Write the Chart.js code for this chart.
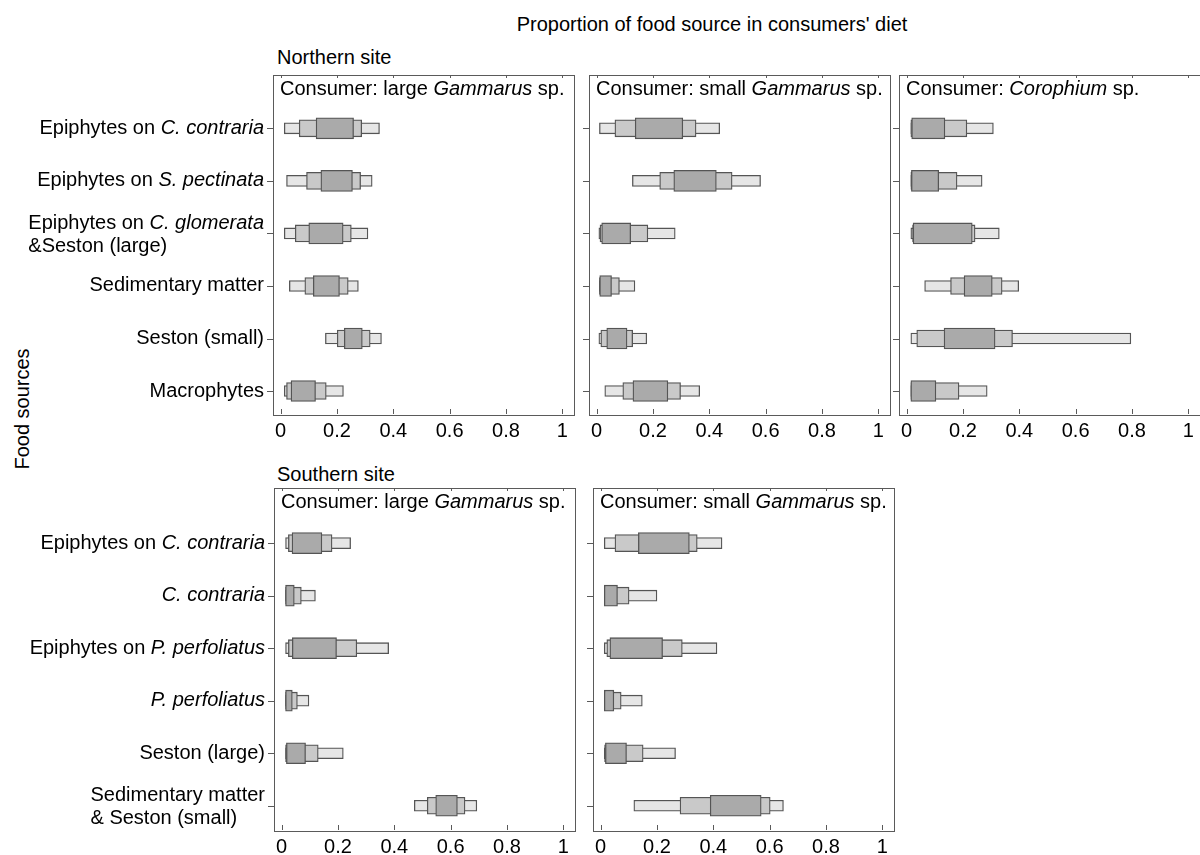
<!DOCTYPE html>
<html>
<head>
<meta charset="utf-8">
<script src="https://cdn.jsdelivr.net/npm/chart.js@4.4.1/dist/chart.umd.min.js"></script>
<style>
  body { margin: 0; width: 1200px; height: 855px; overflow: hidden; background: #fff; position: relative;
         font-family: "Liberation Sans", Arial, sans-serif; font-size: 20px; color: #000; }
  .txt { position: absolute; line-height: 24px; white-space: nowrap; }
  canvas { position: absolute; }
</style>
</head>
<body>
<div class="txt" style="left:712px; top:12px; transform:translateX(-50%);">Proportion of food source in consumers' diet</div>
<div class="txt" style="left:277px; top:45px;">Northern site</div>
<div class="txt" style="left:277px; top:462px;">Southern site</div>
<div class="txt" style="left:22px; top:409px; transform:translate(-50%,-50%) rotate(-90deg);">Food sources</div>

<canvas id="nLarge" width="580" height="391" style="left:0px; top:70px;"></canvas>
<canvas id="nSmall" width="317" height="391" style="left:579px; top:70px;"></canvas>
<canvas id="nCoro" width="317" height="391" style="left:889px; top:70px;"></canvas>
<canvas id="sLarge" width="581" height="394" style="left:0px; top:483px;"></canvas>
<canvas id="sSmall" width="317" height="394" style="left:583px; top:483px;"></canvas>

<script>
// text between underscores is italic, \n breaks a label
const northSources = ['Epiphytes on _C. contraria_', 'Epiphytes on _S. pectinata_', 'Epiphytes on _C. glomerata_\n&Seston (large)',
                      'Sedimentary matter', 'Seston (small)', 'Macrophytes'];
const southSources = ['Epiphytes on _C. contraria_', '_C. contraria_', 'Epiphytes on _P. perfoliatus_',
                      '_P. perfoliatus_', 'Seston (large)', 'Sedimentary matter\n& Seston (small)'];

const xTickValues = [0, 0.2, 0.4, 0.6, 0.8, 1];
const xTickLabels = ['0', '0.2', '0.4', '0.6', '0.8', '1'];

// credible intervals [low, high]: 95%, 75%, 50%
const nLarge95 = [[0.013, 0.351], [0.021, 0.325], [0.013, 0.310], [0.031, 0.276], [0.159, 0.358], [0.013, 0.223]];
const nLarge75 = [[0.066, 0.288], [0.092, 0.284], [0.052, 0.251], [0.086, 0.240], [0.201, 0.318], [0.021, 0.162]];
const nLarge50 = [[0.126, 0.259], [0.143, 0.255], [0.100, 0.222], [0.116, 0.209], [0.226, 0.290], [0.037, 0.124]];

const nSmall95 = [[0.010, 0.437], [0.127, 0.582], [0.008, 0.279], [0.010, 0.136], [0.008, 0.178], [0.029, 0.366]];
const nSmall75 = [[0.065, 0.353], [0.224, 0.481], [0.012, 0.182], [0.010, 0.081], [0.015, 0.128], [0.093, 0.298]];
const nSmall50 = [[0.137, 0.306], [0.274, 0.425], [0.018, 0.121], [0.011, 0.053], [0.036, 0.108], [0.129, 0.253]];

const nCoro95 = [[0.015, 0.308], [0.015, 0.268], [0.015, 0.329], [0.064, 0.398], [0.015, 0.796], [0.015, 0.286]];
const nCoro75 = [[0.015, 0.214], [0.015, 0.179], [0.021, 0.243], [0.156, 0.339], [0.036, 0.376], [0.015, 0.186]];
const nCoro50 = [[0.018, 0.136], [0.017, 0.114], [0.023, 0.233], [0.204, 0.304], [0.133, 0.314], [0.015, 0.104]];

const sLarge95 = [[0.014, 0.245], [0.014, 0.120], [0.014, 0.380], [0.014, 0.097], [0.014, 0.219], [0.471, 0.693]];
const sLarge75 = [[0.024, 0.179], [0.014, 0.070], [0.024, 0.267], [0.014, 0.056], [0.014, 0.130], [0.517, 0.651]];
const sLarge50 = [[0.037, 0.143], [0.014, 0.045], [0.038, 0.195], [0.014, 0.038], [0.017, 0.085], [0.547, 0.624]];

const sSmall95 = [[0.013, 0.431], [0.013, 0.200], [0.013, 0.413], [0.013, 0.148], [0.013, 0.266], [0.118, 0.649]];
const sSmall75 = [[0.051, 0.343], [0.013, 0.101], [0.022, 0.290], [0.013, 0.073], [0.014, 0.151], [0.282, 0.602]];
const sSmall50 = [[0.134, 0.315], [0.013, 0.060], [0.033, 0.220], [0.013, 0.047], [0.017, 0.092], [0.389, 0.570]];

const FONT = '20px "Liberation Sans", Arial, sans-serif';

function richWidth(ctx, text) {
    let w = 0;
    text.split('_').forEach((part, k) => {
        ctx.font = (k % 2 ? 'italic ' : '') + FONT;
        w += ctx.measureText(part).width;
    });
    return w;
}

function drawRich(ctx, text, x, y) {
    text.split('_').forEach((part, k) => {
        ctx.font = (k % 2 ? 'italic ' : '') + FONT;
        ctx.fillText(part, x, y);
        x += ctx.measureText(part).width;
    });
}

// frame, inner ticks, panel title and row labels
const decor = {
    id: 'decor',
    afterDraw(chart, args, opts) {
        const { ctx, chartArea: a } = chart;
        const x = chart.scales.x, y = chart.scales.y;
        ctx.save();
        ctx.strokeStyle = '#5a5a5a';
        ctx.lineWidth = 1;
        ctx.strokeRect(a.left + 0.5, a.top + 0.5, a.right - a.left - 1, a.bottom - a.top - 1);

        ctx.beginPath();
        xTickValues.forEach(v => {
            const px = Math.round(x.getPixelForValue(v)) + 0.5;
            ctx.moveTo(px, a.bottom - 7);
            ctx.lineTo(px, a.bottom - 2);
            ctx.moveTo(px, a.top);
            ctx.lineTo(px, a.top + 3);
        });
        opts.rows.forEach((_, i) => {
            const py = Math.round(y.getPixelForValue(i + 1)) + 0.5;
            ctx.moveTo(a.left - 6, py);
            ctx.lineTo(a.left, py);
        });
        ctx.stroke();

        ctx.fillStyle = '#000';
        ctx.textBaseline = 'middle';
        ctx.textAlign = 'left';
        drawRich(ctx, opts.title, a.left + 7, a.top + 14);

        if (opts.showLabels) {
            opts.rows.forEach((label, i) => {
                const py = y.getPixelForValue(i + 1);
                const lines = label.split('\n');
                const maxW = Math.max(...lines.map(l => richWidth(ctx, l)));
                const x0 = a.left - 9 - maxW;
                if (lines.length === 1) {
                    drawRich(ctx, lines[0], x0, py);
                } else {
                    drawRich(ctx, lines[0], x0, py - 10);
                    drawRich(ctx, lines[1], x0, py + 13);
                }
            });
        }
        ctx.restore();
    }
};

const toBars = (ci) => ci.map((r, i) => ({ y: i + 1, x: r }));

function makePanel(id, title, rows, ci95, ci75, ci50, yMin, yMax, padLeft, showLabels) {
    new Chart(document.getElementById(id), {
        type: 'bar',
        data: {
            datasets: [
                { label: '50%', data: toBars(ci50), backgroundColor: '#aaaaaa', barThickness: 21, order: 1 },
                { label: '75%', data: toBars(ci75), backgroundColor: '#c9c9c9', barThickness: 17, order: 2 },
                { label: '95%', data: toBars(ci95), backgroundColor: '#e6e6e6', barThickness: 11, order: 3 }
            ]
        },
        options: {
            indexAxis: 'y',
            responsive: false,
            animation: false,
            events: [],
            devicePixelRatio: 1,
            datasets: {
                bar: { grouped: false, borderColor: '#555555', borderWidth: 1.3, borderSkipped: false }
            },
            layout: { padding: { left: padLeft, top: 5, right: 5, bottom: 5 } },
            plugins: {
                legend: { display: false },
                tooltip: { enabled: false },
                decor: { title: title, rows: rows, showLabels: showLabels }
            },
            scales: {
                x: {
                    type: 'linear',
                    min: -0.027,
                    max: 1.045,
                    grid: { display: false, drawTicks: false },
                    border: { display: false },
                    afterBuildTicks: s => { s.ticks = xTickValues.map(v => ({ value: v })); },
                    afterFit: s => { s.height = 40; },
                    ticks: {
                        autoSkip: false,
                        maxRotation: 0,
                        padding: 3,
                        color: '#000',
                        font: { family: '"Liberation Sans", Arial, sans-serif', size: 20 },
                        callback: (v, i) => xTickLabels[i]
                    }
                },
                y: { type: 'linear', display: false, offset: false, reverse: true, min: yMin, max: yMax }
            }
        },
        plugins: [decor]
    });
}

makePanel('nLarge', 'Consumer: large _Gammarus_ sp.', northSources, nLarge95, nLarge75, nLarge50, -0.015, 6.475, 273, true);
makePanel('nSmall', 'Consumer: small _Gammarus_ sp.', northSources, nSmall95, nSmall75, nSmall50, -0.015, 6.475, 10, false);
makePanel('nCoro', 'Consumer: _Corophium_ sp.', northSources, nCoro95, nCoro75, nCoro50, -0.015, 6.475, 10, false);
makePanel('sLarge', 'Consumer: large _Gammarus_ sp.', southSources, sLarge95, sLarge75, sLarge50, -0.05, 6.5, 274, true);
makePanel('sSmall', 'Consumer: small _Gammarus_ sp.', southSources, sSmall95, sSmall75, sSmall50, -0.05, 6.5, 10, false);
</script>
</body>
</html>
